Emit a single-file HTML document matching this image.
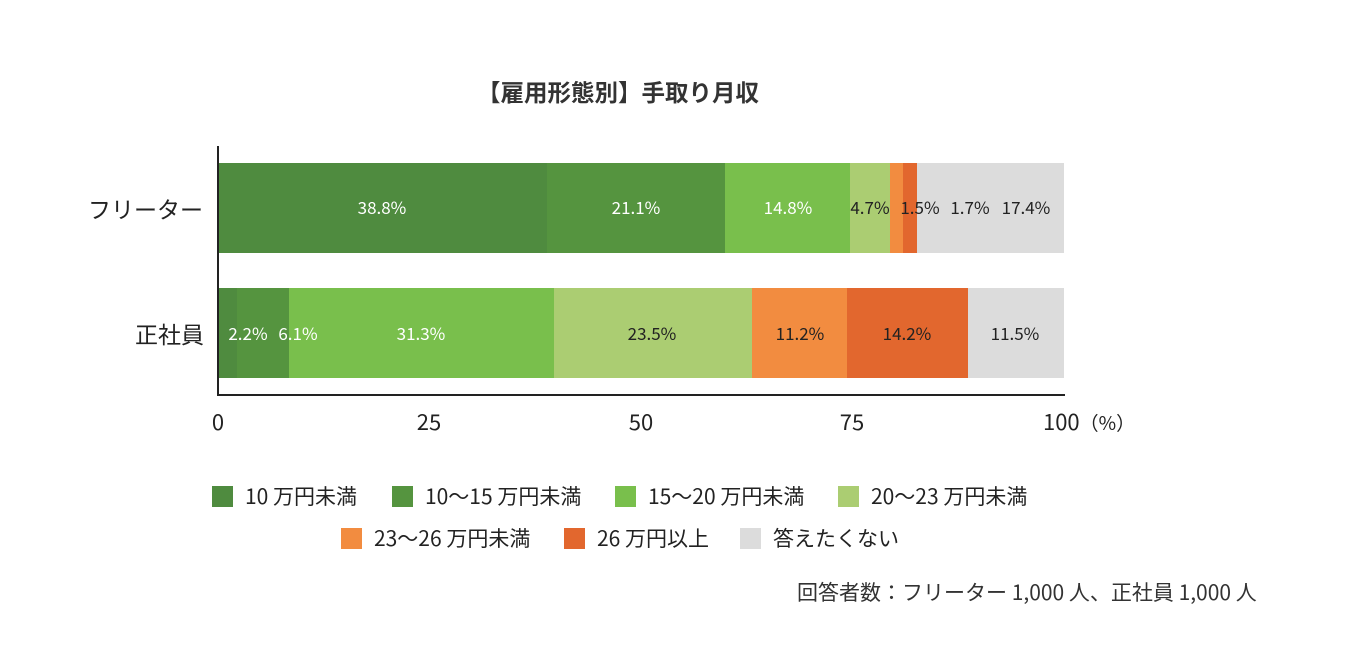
<!DOCTYPE html>
<html><head><meta charset="utf-8"><style>
body{margin:0;width:1370px;height:667px;background:#fff;position:relative;overflow:hidden;font-family:"Noto Sans CJK JP","Liberation Sans",sans-serif;color:#222}
.a{position:absolute;white-space:nowrap}
.s{position:absolute;height:90px}
.t{position:absolute;font-size:17px;line-height:20px;white-space:nowrap;transform:translateX(-50%)}
.w{color:#fff}
.lg{position:absolute;font-size:21px;line-height:22px;white-space:nowrap}
.lg i{display:inline-block;width:21px;height:21px;vertical-align:-3px;margin-right:12px}
</style></head><body>
<div class="a" style="left:477px;top:74px;font-size:23.5px;line-height:34px;font-weight:bold;color:#333">【雇用形態別】手取り月収</div>
<div class="a" style="left:217px;top:146px;width:2px;height:250px;background:#222"></div>
<div class="a" style="left:217px;top:394px;width:848px;height:2px;background:#222"></div>
<div class="a" style="left:88px;top:191px;font-size:23px;line-height:34px">フリーター</div>
<div class="a" style="left:135px;top:316px;font-size:23px;line-height:34px">正社員</div>
<!-- row1 -->
<div class="s" style="top:163px;left:219px;width:328px;background:#4f8b3f"></div>
<div class="s" style="top:163px;left:547px;width:178px;background:#55943f"></div>
<div class="s" style="top:163px;left:725px;width:125px;background:#79bf4c"></div>
<div class="s" style="top:163px;left:850px;width:40px;background:#abcd72"></div>
<div class="s" style="top:163px;left:890px;width:13px;background:#f28c40"></div>
<div class="s" style="top:163px;left:903px;width:14px;background:#e2672e"></div>
<div class="s" style="top:163px;left:917px;width:147px;background:#dcdcdc"></div>
<div class="t w" style="top:197px;left:382px">38.8%</div>
<div class="t w" style="top:197px;left:636px">21.1%</div>
<div class="t w" style="top:197px;left:788px">14.8%</div>
<div class="t" style="top:197px;left:870px">4.7%</div>
<div class="t" style="top:197px;left:920px">1.5%</div>
<div class="t" style="top:197px;left:970px">1.7%</div>
<div class="t" style="top:197px;left:1026px">17.4%</div>
<!-- row2 -->
<div class="s" style="top:288px;left:219px;width:18px;background:#4f8b3f"></div>
<div class="s" style="top:288px;left:237px;width:52px;background:#55943f"></div>
<div class="s" style="top:288px;left:289px;width:265px;background:#79bf4c"></div>
<div class="s" style="top:288px;left:554px;width:198px;background:#abcd72"></div>
<div class="s" style="top:288px;left:752px;width:95px;background:#f28c40"></div>
<div class="s" style="top:288px;left:847px;width:121px;background:#e2672e"></div>
<div class="s" style="top:288px;left:968px;width:96px;background:#dcdcdc"></div>
<div class="t w" style="top:323px;left:248px">2.2%</div>
<div class="t w" style="top:323px;left:298px">6.1%</div>
<div class="t w" style="top:323px;left:421px">31.3%</div>
<div class="t" style="top:323px;left:652px">23.5%</div>
<div class="t" style="top:323px;left:800px">11.2%</div>
<div class="t" style="top:323px;left:907px">14.2%</div>
<div class="t" style="top:323px;left:1015px">11.5%</div>
<!-- ticks -->
<div class="t" style="top:405px;left:218px;font-size:22px;line-height:32px">0</div>
<div class="t" style="top:405px;left:429px;font-size:22px;line-height:32px">25</div>
<div class="t" style="top:405px;left:641px;font-size:22px;line-height:32px">50</div>
<div class="t" style="top:405px;left:852px;font-size:22px;line-height:32px">75</div>
<div class="a" style="top:405px;left:1043px;font-size:22px;line-height:32px">100<span style="font-size:19px">（%）</span></div>
<!-- legend -->
<div class="lg" style="left:212px;top:485px"><i style="background:#4f8b3f"></i>10 万円未満</div>
<div class="lg" style="left:392px;top:485px"><i style="background:#55943f"></i>10〜15 万円未満</div>
<div class="lg" style="left:615px;top:485px"><i style="background:#79bf4c"></i>15〜20 万円未満</div>
<div class="lg" style="left:838px;top:485px"><i style="background:#abcd72"></i>20〜23 万円未満</div>
<div class="lg" style="left:341px;top:527px"><i style="background:#f28c40"></i>23〜26 万円未満</div>
<div class="lg" style="left:564px;top:527px"><i style="background:#e2672e"></i>26 万円以上</div>
<div class="lg" style="left:740px;top:527px"><i style="background:#dcdcdc"></i>答えたくない</div>
<div class="a" style="left:797px;top:576px;font-size:21px;line-height:32px;color:#333">回答者数：フリーター 1,000 人、正社員 1,000 人</div>
</body></html>
